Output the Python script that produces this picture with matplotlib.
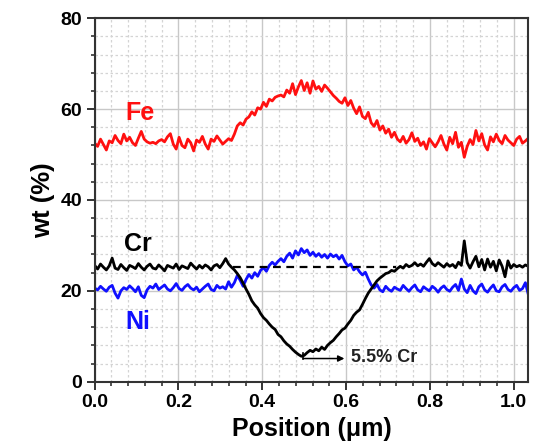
import numpy as np
import matplotlib
matplotlib.use("Agg")
import matplotlib.pyplot as plt
from matplotlib.ticker import MultipleLocator

plt.rcParams['font.family'] = ['Liberation Sans', 'DejaVu Sans']
plt.rcParams['font.weight'] = 'bold'

# ---- data (wt %) sampled uniformly along position 0 .. 1.035 um ----
x_max = 1.035

fe_wt = [
    52.5, 51.8, 53.4, 52.2, 51.0, 53.0, 52.6, 54.2, 53.1, 52.4, 54.5, 53.0, 53.8, 52.6, 52.0, 53.6, 55.1, 53.4, 52.8, 52.5,
    52.7, 52.4, 53.0, 53.3, 52.8, 53.9, 54.6, 52.3, 51.2, 53.8,
    52.0, 51.5, 53.4, 52.6, 50.8, 53.2, 52.7, 54.0, 52.3, 51.2,
    53.4, 52.9, 54.1, 53.2, 52.3, 52.9, 53.5, 53.1,
    54.5, 56.3, 57.0, 56.5, 57.8, 58.3, 59.4, 58.7, 60.3, 60.0, 61.5, 60.6, 62.2, 61.8, 62.6, 62.9, 63.1, 62.7, 64.2, 63.5,
    65.6, 63.2, 64.9, 66.3, 64.1,
    65.8, 63.5, 66.2, 64.4, 65.0, 63.9, 65.3, 64.6,
    63.8, 63.0, 62.4, 61.7, 61.3, 62.5, 60.8, 61.9, 60.2, 59.0, 60.5, 58.4, 57.9, 59.3, 57.0, 56.2, 57.5, 55.4, 56.3, 54.7,
    55.6, 53.8, 54.9, 53.4,
    52.8, 54.0, 52.5, 53.3, 54.8, 52.9, 53.6, 52.0, 52.8, 51.2, 53.5, 52.6, 51.7, 52.8, 54.2, 52.3, 51.0, 53.8, 52.4, 54.9,
    51.6, 52.7, 49.4, 51.8, 53.3, 52.2, 55.3, 53.0, 54.6, 52.1, 51.0, 53.9, 52.8, 54.5, 53.1, 52.4, 54.2, 53.2, 52.6, 52.0,
    53.4, 54.0, 52.5, 53.0, 53.6,
]

cr_wt = [
    25.6, 24.8, 25.9, 25.2, 24.6, 25.5, 27.2, 25.0, 24.7, 25.8,
    25.1, 24.5, 25.6, 25.3, 24.9, 26.0, 25.2, 24.6, 25.4, 25.9,
    25.0, 24.8, 25.7, 25.1, 24.4, 25.6, 25.3, 25.0, 25.9, 24.7,
    25.5, 25.2, 24.9, 26.1, 25.4, 24.8, 25.6, 25.0, 25.7, 25.3,
    24.6, 25.5, 25.8, 25.1, 26.0, 27.1, 25.9, 25.2,
    24.6, 23.8, 22.9, 21.7, 20.4, 19.2, 17.8, 16.9, 16.2, 15.0, 14.1, 13.5, 12.7, 12.0, 11.5, 10.4, 9.9, 9.0, 8.3, 7.8,
    7.1, 6.5, 6.0, 5.6,
    5.8, 6.4, 6.9, 6.6, 7.2, 6.8, 7.6, 7.1, 8.0,
    8.6, 9.1, 9.9, 10.6, 11.4, 11.8, 12.7, 13.5, 14.6, 15.3, 15.8, 17.0, 18.3, 19.5, 20.4, 21.3, 22.2, 22.8, 23.3, 23.8,
    24.0, 24.5, 24.3, 24.9,
    25.4, 25.0, 25.8, 25.3, 25.6, 26.2, 25.5, 25.9, 25.4, 26.3, 27.1, 26.0, 25.5, 26.2, 25.7, 25.2, 26.0, 25.4, 25.8, 25.1,
    26.3, 25.6, 31.0, 26.2, 25.0, 26.4, 27.6, 25.3, 26.9, 24.6, 27.0, 25.2, 26.5, 24.4, 26.8, 25.4, 23.1, 26.6, 25.0, 25.8,
    25.3, 25.6, 25.2, 25.7, 25.4,
]

ni_wt = [
    20.6, 20.2, 21.0, 20.4, 19.9, 20.8, 21.2, 19.5, 18.4, 20.0,
    20.7, 20.3, 21.1, 20.5, 19.8, 20.9, 19.0, 18.5, 20.2, 21.0,
    20.6, 21.5, 20.3, 20.8, 21.3, 20.4, 20.0, 20.7, 21.6, 20.5,
    20.1, 20.9, 21.4, 20.6, 20.2, 20.8, 19.8, 20.4, 21.0, 21.5,
    20.3, 20.0, 21.2, 20.6, 20.9, 20.4, 22.0, 20.8,
    21.8, 23.4, 22.3, 21.0, 22.5, 23.6, 22.8, 24.0, 23.2, 24.5, 25.1, 24.3, 25.6, 26.3, 25.7, 26.5, 27.1, 26.4, 27.6, 28.3,
    27.2, 28.8, 27.9, 29.3,
    28.4, 29.0, 27.8, 28.5, 27.6, 28.2, 27.4, 28.0, 27.2, 28.1, 27.5, 27.9, 27.0, 27.8,
    26.4, 25.5, 25.9, 24.6, 25.2, 24.2, 23.5, 24.1, 22.6, 21.3, 20.6, 21.4, 20.2, 19.8, 21.0, 20.3, 19.9, 20.8, 20.4,
    20.1, 21.2, 20.5, 19.9, 20.7, 21.3, 20.2, 19.8, 20.9, 20.4, 20.0, 21.0, 20.5, 19.7, 20.6, 21.1, 20.3, 19.9, 20.8, 21.4,
    20.1, 22.6, 20.4, 19.6, 21.2, 20.0, 19.4, 20.9, 21.5, 20.2, 19.7, 20.6, 21.3, 20.0, 19.8, 20.9, 21.4, 20.3, 19.9, 20.7,
    21.2, 20.1, 20.5, 21.8, 19.2,
]

cr_reference = 25.3          # dashed bulk Cr level
cr_ref_span = [0.33, 0.72]
cr_min_label = "5.5% Cr"
x_ticks = [0.0, 0.2, 0.4, 0.6, 0.8, 1.0]
y_ticks = [0, 20, 40, 60, 80]

fig = plt.figure(figsize=(5.49, 4.47), dpi=100)
ax = fig.add_axes([0.1725, 0.1461, 0.7898, 0.8130])

ax.set_axisbelow(True)
ax.grid(which='major', color='#c8c8c8', lw=1.0, ls='-')
ax.grid(which='minor', color='#d4d4d4', lw=0.9, ls=(0, (2, 2)))

def pos(vals):
    return np.linspace(0, x_max, len(vals))

ax.plot(pos(fe_wt), fe_wt, color='#ff1010', lw=2.0)
ax.plot(pos(ni_wt), ni_wt, color='#1010ff', lw=2.0)
ax.plot(pos(cr_wt), cr_wt, color='black', lw=2.0)
ax.plot(cr_ref_span, [cr_reference, cr_reference], color='black', lw=1.6, ls=(0, (3.5, 2.5)))

# minimum annotation
ax.plot([0.498, 0.498], [5.1, 6.3], color='black', lw=1.2)
ax.annotate('', xy=(0.596, 5.1), xytext=(0.498, 5.1),
            arrowprops=dict(arrowstyle='-|>', lw=1.1, color='black', mutation_scale=9,
                            shrinkA=0, shrinkB=0))
ax.text(0.612, 5.4, cr_min_label, fontsize=13, fontweight='bold', color='#222222',
        va='center', ha='left')

ax.text(0.108, 59.1, 'Fe', color='#ff1010', fontsize=18, fontweight='bold', ha='center', va='center')
ax.text(0.104, 30.4, 'Cr', color='black', fontsize=18, fontweight='bold', ha='center', va='center')
ax.text(0.104, 13.2, 'Ni', color='#1010ff', fontsize=18, fontweight='bold', ha='center', va='center')

ax.set_xlim(0, x_max)
ax.set_ylim(0, 80)
ax.set_xticks(x_ticks)
ax.set_xticklabels([f"{t:.1f}" for t in x_ticks])
ax.set_yticks(y_ticks)
ax.xaxis.set_minor_locator(MultipleLocator(0.04))
ax.yaxis.set_minor_locator(MultipleLocator(4))

ax.tick_params(which='major', direction='out', length=6, width=1.4, labelsize=14, pad=3, color='#333333')
ax.tick_params(which='minor', direction='out', length=3, width=1.2, color='#333333')
ax.tick_params(top=False, right=False, which='both')
for lab in ax.get_xticklabels() + ax.get_yticklabels():
    lab.set_fontweight('bold')

for sp in ax.spines.values():
    sp.set_linewidth(1.5)
    sp.set_color('#333333')

ax.set_xlabel('Position (μm)', fontsize=18, fontweight='bold', labelpad=4)
ax.set_ylabel('wt (%)', fontsize=18.5, fontweight='bold', labelpad=4)

fig.savefig('out.png', dpi=100)
